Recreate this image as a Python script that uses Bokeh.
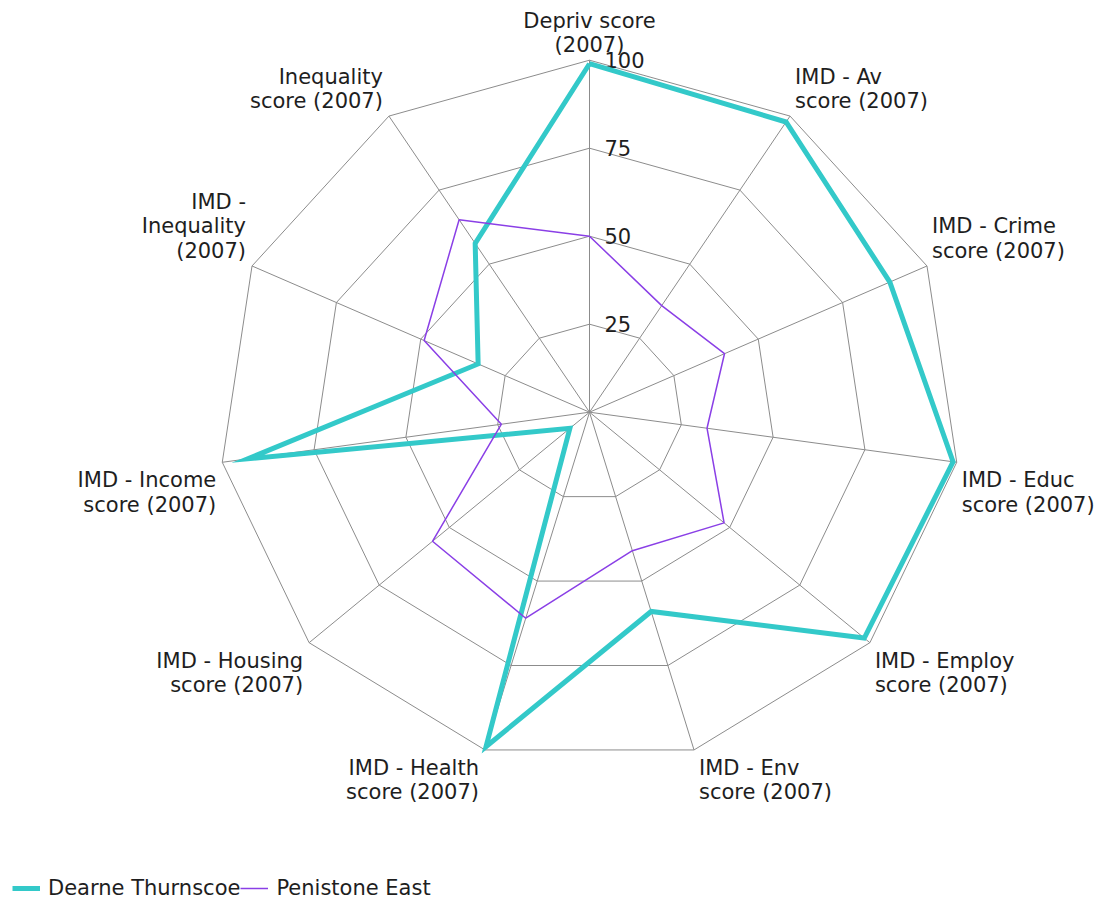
import math
from bokeh.plotting import figure
from bokeh.models import ColumnDataSource, Legend, LegendItem
from bokeh.core.properties import value
from bokeh.embed import file_html
from bokeh.resources import INLINE

# ---- data -------------------------------------------------------------
categories = [
    "Depriv score (2007)",
    "IMD - Av score (2007)",
    "IMD - Crime score (2007)",
    "IMD - Educ score (2007)",
    "IMD - Employ score (2007)",
    "IMD - Env score (2007)",
    "IMD - Health score (2007)",
    "IMD - Housing score (2007)",
    "IMD - Income score (2007)",
    "IMD - Inequality (2007)",
    "Inequality score (2007)",
]
axis_labels = [
    "Depriv score\n(2007)",
    "IMD - Av\nscore (2007)",
    "IMD - Crime\nscore (2007)",
    "IMD - Educ\nscore (2007)",
    "IMD - Employ\nscore (2007)",
    "IMD - Env\nscore (2007)",
    "IMD - Health\nscore (2007)",
    "IMD - Housing\nscore (2007)",
    "IMD - Income\nscore (2007)",
    "IMD -\nInequality\n(2007)",
    "Inequality\nscore (2007)",
]
dearne_thurnscoe = [99, 98, 89, 99, 98, 59, 99, 7, 93, 33, 57]
penistone_east = [50, 36, 40, 32, 48, 41, 61, 56, 24, 49, 65]
ring_values = [25, 50, 75, 100]
ring_labels = ["25", "50", "75", "100"]
series_names = ["Dearne Thurnscoe", "Penistone East"]

# ---- styles -----------------------------------------------------------
CYAN = "#33c9c9"
PURPLE = "#8a3fe6"
GRID = "#8c8c8c"
TEXT = "#1e1e1e"
FONT = "DejaVu Sans"

n = len(categories)
angles = [math.pi / 2 - 2 * math.pi * i / n for i in range(n)]
RMAX = max(ring_values)

W, H = 1105, 901
CX, CY, RX, RY = 589.0, 411.7, 371.0, 352.0
p = figure(width=W, height=H, output_backend="svg", toolbar_location=None,
           x_range=(-CX / RX * 100, (W - CX) / RX * 100),
           y_range=(-(H - CY) / RY * 100, CY / RY * 100),
           min_border=0, outline_line_color=None)
p.axis.visible = False
p.grid.visible = False
p.background_fill_color = "white"

# rings
ring_xs, ring_ys = [], []
for r in ring_values:
    ring_xs.append([r * math.cos(a) for a in angles] + [r * math.cos(angles[0])])
    ring_ys.append([r * math.sin(a) for a in angles] + [r * math.sin(angles[0])])
p.multi_line(ring_xs, ring_ys, line_color=GRID, line_width=1)

# spokes
p.segment(x0=[0] * n, y0=[0] * n,
          x1=[RMAX * math.cos(a) for a in angles],
          y1=[RMAX * math.sin(a) for a in angles],
          line_color=GRID, line_width=1)

# ring labels
p.text(x=[0] * len(ring_values), y=ring_values, text=ring_labels,
       x_offset=15, text_align="left", text_baseline="middle",
       text_font=value(FONT), text_font_size="21px", text_color=TEXT)

# series
def closed(vals):
    xs = [v * math.cos(a) for v, a in zip(vals, angles)]
    ys = [v * math.sin(a) for v, a in zip(vals, angles)]
    return xs + xs[:1], ys + ys[:1]

dx, dy = closed(dearne_thurnscoe)
px, py = closed(penistone_east)
r1 = p.line(dx, dy, line_color=CYAN, line_width=5, line_join="miter")
r2 = p.line(px, py, line_color=PURPLE, line_width=1.5)

# axis labels
lx, ly, la, lb, xo, yo = [], [], [], [], [], []
for a in angles:
    c, s = math.cos(a), math.sin(a)
    lx.append(RMAX * c)
    ly.append(RMAX * s)
    if c > 0.1:
        la.append("left"); xo.append(5)
    elif c < -0.1:
        la.append("right"); xo.append(-6)
    else:
        la.append("center"); xo.append(0)
    if s > 0:
        lb.append("bottom"); yo.append(-3)
    else:
        lb.append("top"); yo.append(6)
src = ColumnDataSource(dict(x=lx, y=ly, text=axis_labels, align=la,
                            base=lb, xo=xo, yo=yo))
p.text(x="x", y="y", text="text", source=src, text_align="align",
       text_baseline="base", x_offset="xo", y_offset="yo",
       text_font=value(FONT), text_font_size="21px", text_color=TEXT,
       text_line_height=1.02)

legend = Legend(items=[LegendItem(label=series_names[0], renderers=[r1]),
                       LegendItem(label=series_names[1], renderers=[r2])],
                orientation="horizontal", location=(12, 1),
                border_line_color=None, background_fill_alpha=0,
                padding=0, margin=0, spacing=-6,
                glyph_width=28, glyph_height=18, label_height=18,
                label_standoff=8,
                label_text_font=FONT, label_text_font_size="21px",
                label_text_color=TEXT)
p.add_layout(legend, "center")

open("out.html", "w").write(file_html(p, INLINE))
